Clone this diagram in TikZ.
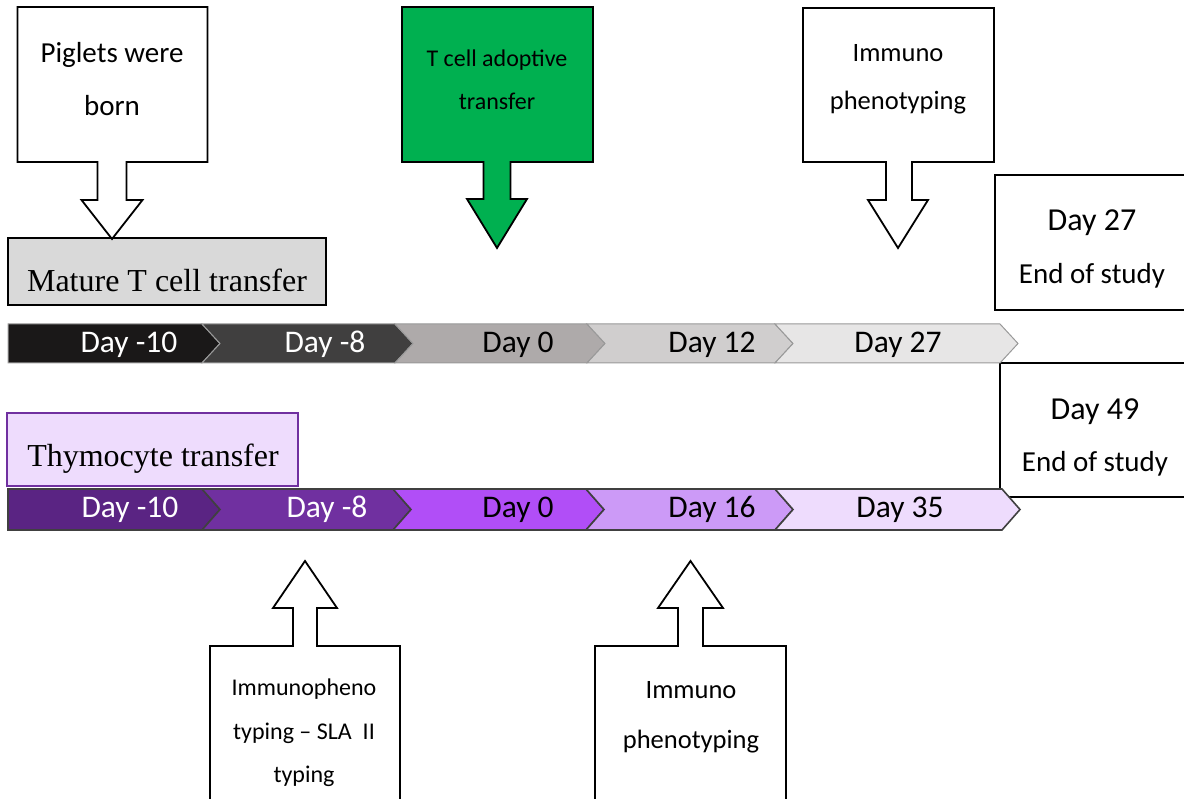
\documentclass[tikz,border=0pt]{standalone}
\usepackage{fontspec}
\setmainfont{Carlito}
\newfontfamily\tnr{Liberation Serif}
\definecolor{tA}{HTML}{1A1818}
\definecolor{tB}{HTML}{403F3F}
\definecolor{tC}{HTML}{AEAAAA}
\definecolor{tD}{HTML}{D0CECE}
\definecolor{tE}{HTML}{E7E6E6}
\definecolor{pA}{HTML}{5A2483}
\definecolor{pB}{HTML}{7030A0}
\definecolor{pC}{HTML}{B14EF7}
\definecolor{pD}{HTML}{CC9AF7}
\definecolor{pE}{HTML}{EEDCFD}
\definecolor{grn}{HTML}{00B050}
\definecolor{lgray}{HTML}{D9D9D9}
\newcommand\chevseg[5]{%
  \path[#5] (#1,#3) -- ({#2-18},#3) -- (#2,{(#3+#4)/2}) -- ({#2-18},#4) -- (#1,#4) -- ({#1+18},{(#3+#4)/2}) -- cycle;}
\newcommand\chevfirst[5]{%
  \path[#5] (#1,#3) -- ({#2-18},#3) -- (#2,{(#3+#4)/2}) -- ({#2-18},#4) -- (#1,#4) -- cycle;}
\begin{document}
\begin{tikzpicture}[x=1pt,y=-1pt,
  callout/.style={draw=black, line width=1.8pt, line join=miter},
  endbox/.style={draw=black, line width=1.8pt, fill=white},
  seg1/.style={draw=black!40, line width=1pt, line join=miter},
  seg2/.style={draw=black!75, line width=1.6pt, line join=miter},
  txt/.style={align=center, inner sep=0pt},
  daytxt/.style={anchor=base, inner sep=0pt, font=\fontsize{31.5}{31.5}\selectfont},
  serifbig/.style={anchor=base, inner sep=0pt, font=\tnr\fontsize{32}{32}\selectfont}]
\useasboundingbox (0,0) rectangle (1184,799);

% end-of-study boxes
\path[endbox] (995,175) rectangle (1195,310);
\path[endbox] (1000,363) rectangle (1195,497);
\node[txt, font=\fontsize{29}{53}\selectfont] (end27) at (1092,248.5) {{\fontsize{32}{53}\selectfont Day 27}\\End of study};
\node[txt, font=\fontsize{29}{52}\selectfont] (end49) at (1095,437.5) {{\fontsize{32}{52}\selectfont Day 49}\\End of study};

% group label boxes
\path[draw=black, line width=1.5pt, fill=lgray] (8,238) rectangle (326,305);
\node[serifbig] (mature) at (167,292) {Mature T cell transfer};
\path[draw=pB, line width=1.5pt, fill=pE] (7,413) rectangle (298,486);
\node[serifbig] (thymo) at (153,467) {Thymocyte transfer};

% timeline 1
\chevfirst{8}{220}{324}{363}{seg1, fill=tA}
\chevseg{202}{413}{324}{363}{seg1, fill=tB}
\chevseg{395}{605}{324}{363}{seg1, fill=tC}
\chevseg{587}{793}{324}{363}{seg1, fill=tD}
\chevseg{775}{1018}{324}{363}{seg1, fill=tE}
\node[daytxt, text=white] (a1) at (129,353) {Day -10};
\node[daytxt, text=white] (a2) at (325,353) {Day -8};
\node[daytxt] (a3) at (518,353) {Day 0};
\node[daytxt] (a4) at (712,353) {Day 12};
\node[daytxt] (a5) at (898,353) {Day 27};

% timeline 2
\chevfirst{8}{220}{489}{530}{seg2, fill=pA}
\chevseg{202}{411}{489}{530}{seg2, fill=pB}
\chevseg{393}{604}{489}{530}{seg2, fill=pC}
\chevseg{586}{793}{489}{530}{seg2, fill=pD}
\chevseg{775}{1020}{489}{530}{seg2, fill=pE}
\node[daytxt, text=white] (b1) at (130,518) {Day -10};
\node[daytxt, text=white] (b2) at (327,518) {Day -8};
\node[daytxt] (b3) at (518,518) {Day 0};
\node[daytxt] (b4) at (712,518) {Day 16};
\node[daytxt] (b5) at (900,518) {Day 35};

% callouts pointing down
\path[callout, fill=white] (17.5,7) -- (207.5,7) -- (207.5,162) -- (126.5,162) -- (126.5,200) -- (142.5,200) -- (112,239) -- (81.5,200) -- (97.5,200) -- (97.5,162) -- (17.5,162) -- cycle;
\node[txt, font=\fontsize{29}{53}\selectfont] (born) at (112,79.5) {Piglets were\\born};

\path[callout, fill=grn] (402,7) -- (593,7) -- (593,162) -- (510.5,162) -- (510.5,199) -- (527,199) -- (497,248) -- (467,199) -- (483.5,199) -- (483.5,162) -- (402,162) -- cycle;
\node[txt, font=\fontsize{24}{43}\selectfont] (adopt) at (497,79.5) {T cell adoptive\\transfer};

\path[callout, fill=white] (803,8) -- (994,8) -- (994,162) -- (912,162) -- (912,200) -- (928,200) -- (898,248) -- (868,200) -- (886,200) -- (886,162) -- (803,162) -- cycle;
\node[txt, font=\fontsize{26.5}{48}\selectfont] (immtop) at (898,79) {Immuno\\phenotyping};

% callouts pointing up
\path[callout, fill=white] (210,810) -- (210,646) -- (293,646) -- (293,608) -- (273,608) -- (305,561) -- (337,608) -- (317,608) -- (317,646) -- (400,646) -- (400,810) -- cycle;
\node[txt, font=\fontsize{24}{43.5}\selectfont] (sla) at (304,733) {Immunopheno\\typing -- SLA\ \ II\\typing};

\path[callout, fill=white] (595,810) -- (595,646) -- (678,646) -- (678,608) -- (658,608) -- (690.5,561) -- (723,608) -- (703,608) -- (703,646) -- (786,646) -- (786,810) -- cycle;
\node[txt, font=\fontsize{26.5}{50}\selectfont] (immbot) at (691,717.5) {Immuno\\phenotyping};
\end{tikzpicture}
\end{document}
